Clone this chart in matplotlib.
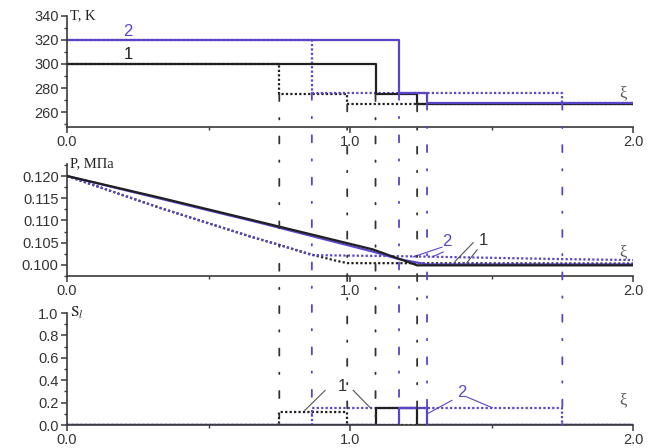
import matplotlib
matplotlib.use("Agg")
import matplotlib.pyplot as plt
from matplotlib.patches import ConnectionPatch
from matplotlib.ticker import MultipleLocator, FormatStrFormatter

# --- front positions (xi) ---
fronts_1 = [1.09, 1.237]      # curve 1, solid
fronts_2 = [1.173, 1.272]     # curve 2, solid
fronts_1d = [0.75, 0.99]      # curve 1, dotted
fronts_2d = [0.865, 1.75]     # curve 2, dotted

# --- temperature levels between fronts, K ---
T_1 = [300, 275, 266.4]
T_2 = [320, 276, 267.8]
T_1d = [300, 275, 266.4]
T_2d = [320, 276, 267.8]

# --- liquid saturation between fronts ---
S_1 = [0.0, 0.15, 0.0]
S_2 = [0.0, 0.15, 0.0]
S_1d = [0.0, 0.12, 0.0]
S_2d = [0.0, 0.149, 0.0]

# --- pressure profiles, MPa ---
xi_p1 = [0.0, 0.33, 0.68, 1.08, 1.237, 2.0]
P_1 = [0.1200, 0.1151, 0.1097, 0.1035, 0.0999, 0.0999]
xi_p2 = [0.0, 0.68, 1.08, 1.173, 1.272, 2.0]
P_2 = [0.1200, 0.1095, 0.1030, 0.1013, 0.1001, 0.1001]
xi_p1d = [0.0, 0.33, 0.647, 0.75, 0.86, 0.94, 0.99, 2.0]
P_1d = [0.1200, 0.1128, 0.1064, 0.1045, 0.1024, 0.1011, 0.1004, 0.1003]
xi_p2d = [0.0, 0.33, 0.647, 0.75, 0.865, 1.24, 1.75, 2.0]
P_2d = [0.1200, 0.1128, 0.1064, 0.1045, 0.1022, 0.1019, 0.1013, 0.1011]

BLUE = '#5846c8'
BLACK = '#202020'
AXC = '#3a3a3a'
DOT = (0, (1, 1))
DASHDOT = (0, (3.9, 9.4, 0.8, 9.4))
SERIF = 'Liberation Serif'

plt.rcParams['font.family'] = 'Liberation Sans'
plt.rcParams['mathtext.fontset'] = 'stix'

fig = plt.figure(figsize=(6.66, 4.48), dpi=100)
ax1 = fig.add_axes([0.1006, 0.7165, 0.85, 0.2478])
ax2 = fig.add_axes([0.1006, 0.3839, 0.85, 0.25])
ax3 = fig.add_axes([0.1006, 0.0513, 0.85, 0.25])


def stepline(ax, fronts, levels, **kw):
    x = [0.0] + list(fronts) + [2.0]
    y = list(levels) + [levels[-1]]
    ax.step(x, y, where='post', **kw)


def style_axis(ax, ylim, major, minor, fmt):
    ax.set_xlim(0, 2.0)
    ax.set_ylim(*ylim)
    for s in ('top', 'right'):
        ax.spines[s].set_visible(False)
    for s in ('left', 'bottom'):
        ax.spines[s].set_color(AXC)
        ax.spines[s].set_linewidth(1.2)
    ax.xaxis.set_major_locator(MultipleLocator(1.0))
    ax.xaxis.set_minor_locator(MultipleLocator(0.5))
    ax.xaxis.set_major_formatter(FormatStrFormatter('%.1f'))
    ax.yaxis.set_major_locator(MultipleLocator(major))
    ax.yaxis.set_minor_locator(MultipleLocator(minor))
    ax.yaxis.set_major_formatter(FormatStrFormatter(fmt))
    ax.tick_params(which='major', direction='out', length=4.5, width=1.1,
                   color=AXC, labelcolor='#333333', labelsize=10.5, pad=1.5)
    ax.tick_params(which='minor', direction='out', length=2.5, width=1.0,
                   color=AXC)
    ax.patch.set_alpha(0)


# temperature
stepline(ax1, fronts_1d, T_1d, color=BLACK, lw=1.6, ls=DOT)
stepline(ax1, fronts_2d, T_2d, color=BLUE, lw=1.6, ls=DOT)
stepline(ax1, fronts_1, T_1, color=BLACK, lw=1.6)
stepline(ax1, fronts_2, T_2, color=BLUE, lw=1.6)
style_axis(ax1, (247.5, 340), 20, 10, '%d')
ax1.text(0.216, 326.7, '2', color=BLUE, fontsize=12, ha='center', va='center')
ax1.text(0.216, 307.8, '1', color=BLACK, fontsize=12, ha='center', va='center')
ax1.text(0.012, 340, 'T, K', family=SERIF, fontsize=10.5, color='#222222',
         va='center', ha='left')
ax1.text(1.965, 275.8, 'ξ', family=SERIF, fontsize=12, color='#555555',
         ha='center', va='center')

# pressure
ax2.plot(xi_p1d, P_1d, color=BLACK, lw=1.6, ls=DOT)
ax2.plot(xi_p2d, P_2d, color=BLUE, lw=1.6, ls=DOT)
ax2.plot(xi_p2, P_2, color=BLUE, lw=1.6)
ax2.plot(xi_p1, P_1, color=BLACK, lw=1.6)
style_axis(ax2, (0.0975, 0.1227), 0.005, 0.0025, '%.3f')
ax2.text(1.343, 0.1052, '2', color=BLUE, fontsize=12, ha='center', va='center')
ax2.plot([1.325, 1.223], [0.1040, 0.1018], color=BLUE, lw=0.8)
ax2.plot([1.329, 1.290], [0.1029, 0.1018], color=BLUE, lw=0.8)
ax2.text(1.47, 0.1054, '1', color='#333333', fontsize=12, ha='center', va='center')
ax2.plot([1.435, 1.371], [0.1050, 0.1008], color='#555555', lw=0.8)
ax2.plot([1.449, 1.413], [0.1034, 0.1005], color='#555555', lw=0.8)
ax2.text(0.012, 0.1227, 'P, МПа', family=SERIF, fontsize=10.5, color='#222222',
         va='center', ha='left')
ax2.text(1.965, 0.1029, 'ξ', family=SERIF, fontsize=12, color='#555555',
         ha='center', va='center')

# saturation
stepline(ax3, fronts_1d, S_1d, color=BLACK, lw=1.6, ls=DOT)
stepline(ax3, fronts_2d, S_2d, color=BLUE, lw=1.6, ls=DOT)
stepline(ax3, fronts_1, S_1, color=BLACK, lw=1.6)
stepline(ax3, fronts_2, S_2, color=BLUE, lw=1.6)
style_axis(ax3, (0.0, 1.0), 0.2, 0.1, '%.1f')
ax3.text(0.972, 0.34, '1', color='#333333', fontsize=12, ha='center', va='center')
ax3.plot([0.912, 0.84], [0.31, 0.13], color='#555555', lw=0.8)
ax3.plot([1.011, 1.071], [0.31, 0.155], color='#555555', lw=0.8)
ax3.text(1.396, 0.29, '2', color=BLUE, fontsize=12, ha='center', va='center')
ax3.plot([1.36, 1.276], [0.22, 0.105], color=BLUE, lw=0.8)
ax3.plot([1.413, 1.502], [0.25, 0.155], color=BLUE, lw=0.8)
ax3.text(0.012, 1.0, r'$\mathrm{S}_{l}$', fontsize=11, color='#222222',
         va='center', ha='left')
ax3.text(1.965, 0.223, 'ξ', family=SERIF, fontsize=12, color='#555555',
         ha='center', va='center')

# front traces running down through all three panels
for xs, lows, col in ((fronts_1d, T_1d[1:], '#333333'),
                      (fronts_1, T_1[1:], '#333333'),
                      (fronts_2d, T_2d[1:], BLUE),
                      (fronts_2, T_2[1:], BLUE)):
    for x, t in zip(xs, lows):
        con = ConnectionPatch(xyA=(x, t), coordsA=ax1.transData,
                              xyB=(x, 0.0), coordsB=ax3.transData,
                              color=col, lw=1.3, linestyle=DASHDOT)
        fig.add_artist(con)

fig.savefig('out.png', dpi=100)
